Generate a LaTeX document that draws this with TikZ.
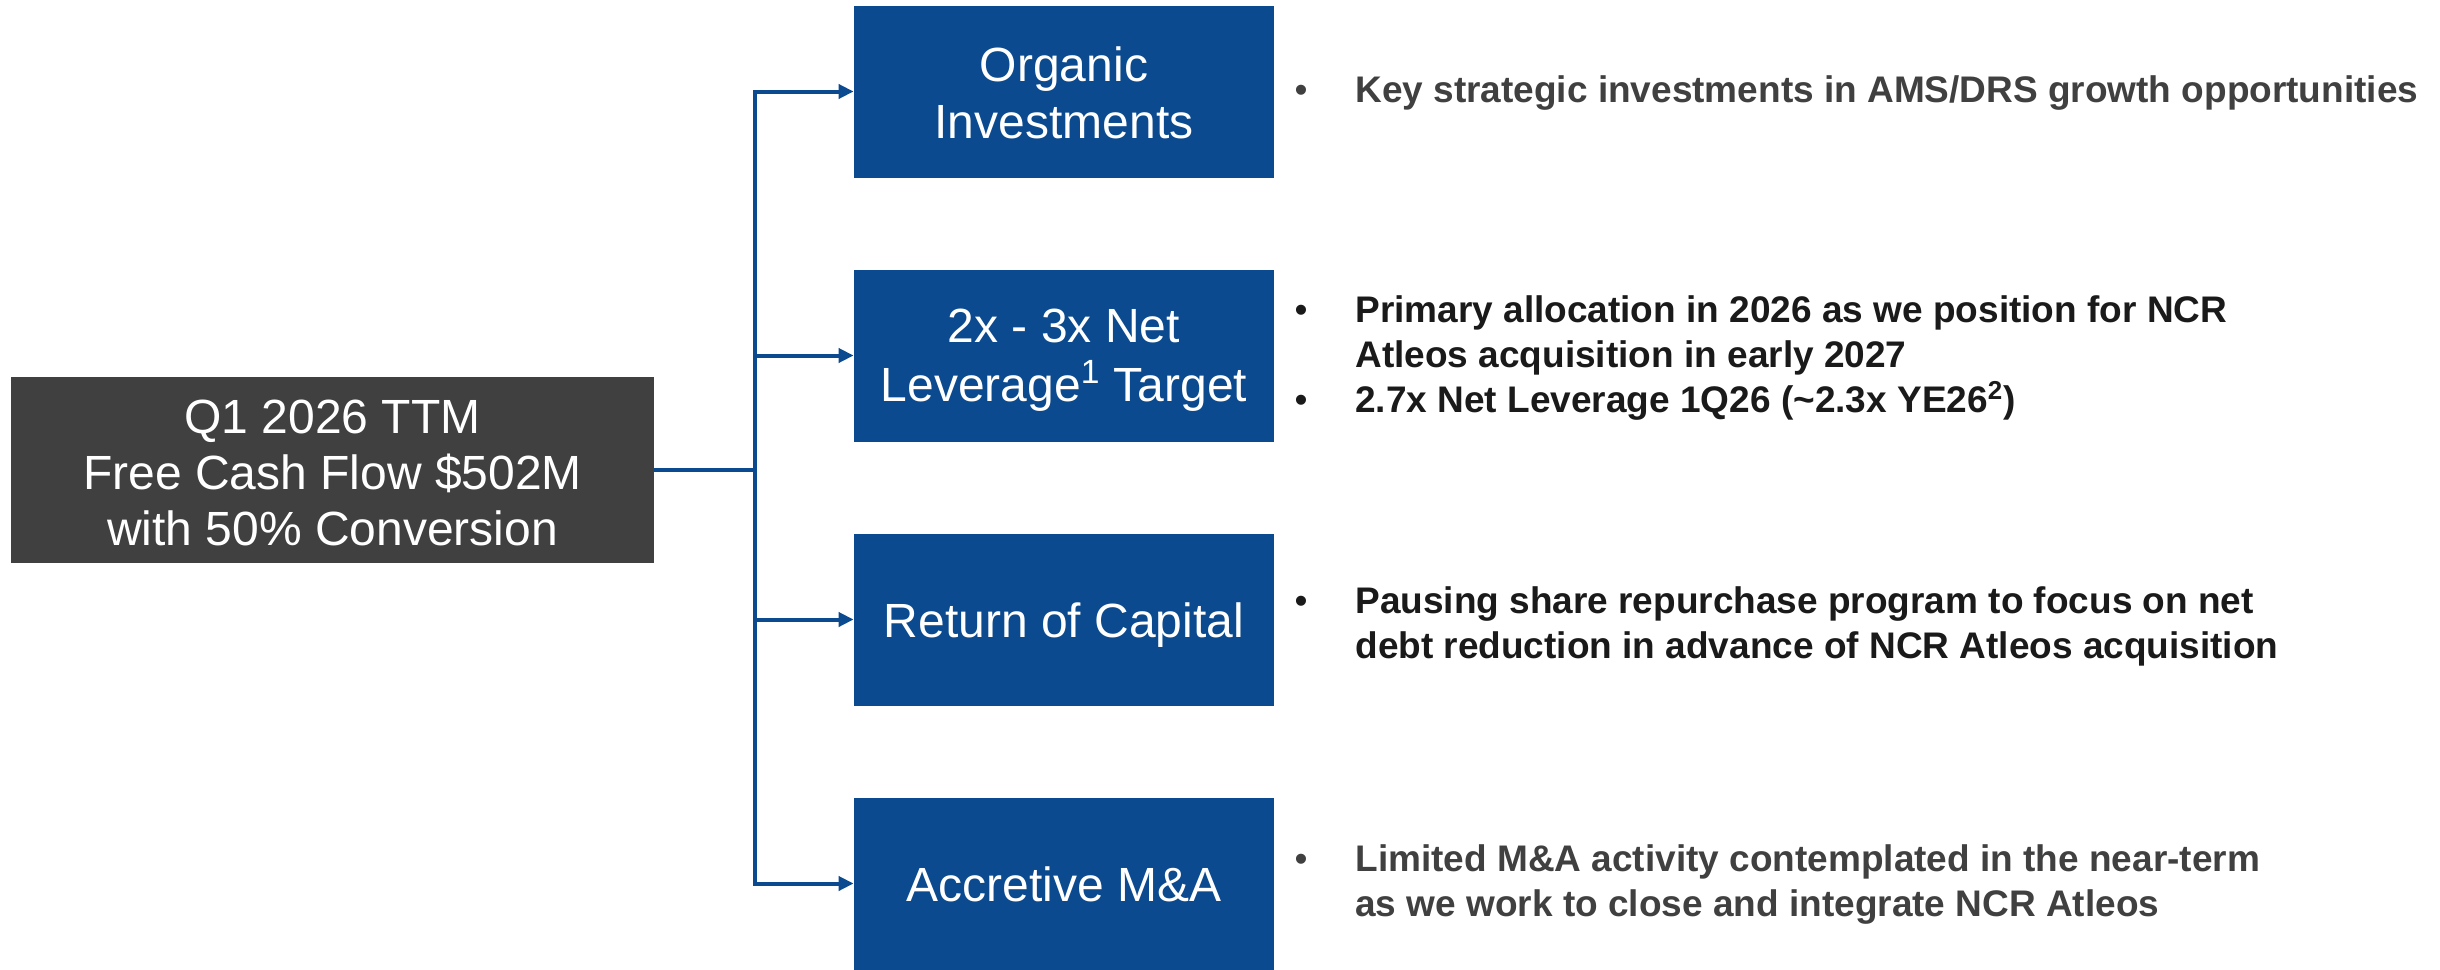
\documentclass[tikz,border=0pt]{standalone}
\usepackage{fontspec}
\setmainfont{Liberation Sans}
\usetikzlibrary{arrows.meta}
\definecolor{navy}{HTML}{0B4A8E}
\definecolor{darkbox}{HTML}{404040}
\definecolor{txtgray}{HTML}{404040}
\definecolor{txtblack}{HTML}{1A1A1A}
\begin{document}
\begin{tikzpicture}[x=0.5pt,y=-0.5pt,
 srcbox/.style={fill=darkbox, minimum width=321.5pt, minimum height=93pt, inner sep=0},
 bluebox/.style={fill=navy, minimum width=210pt, minimum height=86pt, inner sep=0},
 boxtext/.style={text=white, inner sep=0, align=center, font=\fontsize{24}{28.5}\selectfont},
 link/.style={draw=navy, line width=2pt},
 arrow/.style={link, -{Triangle[length=7.5pt,width=7pt]}},
 dot/.style={anchor=base, inner sep=0, font=\fontsize{18.5}{22.5}\selectfont},
 bullettext/.style={anchor=base west, inner sep=0, font=\bfseries\fontsize{18.5}{22.5}\selectfont},
]
\useasboundingbox[fill=white] (0,0) rectangle (2440,969);

\node[srcbox, label={[boxtext, font=\fontsize{24}{28}\selectfont, yshift=-1.5pt]center:{Q1 2026 TTM\\Free Cash Flow \$502M\\with 50\% Conversion}}] (src) at (332.5,470) {};

\node[bluebox, label={[boxtext, yshift=-0.5pt]center:{Organic\\Investments}}] (b1) at (1064,91.5) {};
\node[bluebox, label={[boxtext, font=\fontsize{24}{29.5}\selectfont, yshift=-2.5pt]center:{2x - 3x Net\\Leverage\textsuperscript{1} Target}}] (b2) at (1064,355.5) {};
\node[bluebox, label={[boxtext, yshift=-2.75pt]center:{Return of Capital}}] (b3) at (1064,619.5) {};
\node[bluebox, label={[boxtext, yshift=-0.5pt]center:{Accretive M\&A}}] (b4) at (1064,883.5) {};

\coordinate (j) at (755,470);
\draw[link] (src.east) -- (j);
\draw[arrow] (j) |- (b1.west);
\draw[arrow] (j) |- (b2.west);
\draw[arrow] (j) |- (b3.west);
\draw[arrow] (j) |- (b4.west);

\node[dot, text=txtgray] (d1) at (1301,102) {•};
\node[bullettext, text=txtgray] (t1) at (1355,102) {Key strategic investments in AMS/DRS growth opportunities};

\node[dot, text=txtblack] (d2) at (1301,322) {•};
\node[bullettext, text=txtblack] (t2) at (1355,322) {\begin{tabular}[t]{@{}l@{}}Primary allocation in 2026 as we position for NCR\\Atleos acquisition in early 2027\end{tabular}};
\node[dot, text=txtblack] (d3) at (1301,412) {•};
\node[bullettext, text=txtblack] (t3) at (1355,412) {2.7x Net Leverage 1Q26 (\textasciitilde2.3x YE26\textsuperscript{2})};

\node[dot, text=txtblack] (d4) at (1301,613) {•};
\node[bullettext, text=txtblack] (t4) at (1355,613) {\begin{tabular}[t]{@{}l@{}}Pausing share repurchase program to focus on net\\debt reduction in advance of NCR Atleos acquisition\end{tabular}};

\node[dot, text=txtgray] (d5) at (1301,871) {•};
\node[bullettext, text=txtgray] (t5) at (1355,871) {\begin{tabular}[t]{@{}l@{}}Limited M\&A activity contemplated in the near-term\\as we work to close and integrate NCR Atleos\end{tabular}};
\end{tikzpicture}
\end{document}
